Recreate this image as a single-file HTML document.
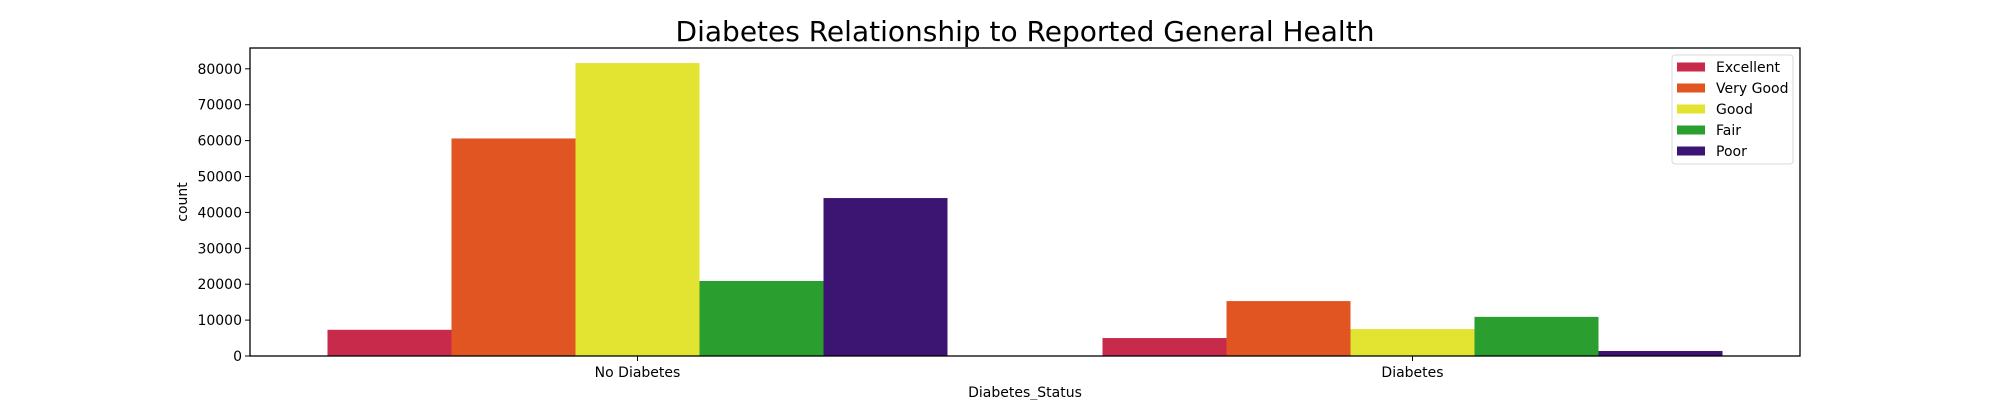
<!DOCTYPE html>
<html><head><meta charset="utf-8"><style>
html,body{margin:0;padding:0;background:#fff;}
svg{display:block;font-family:"DejaVu Sans","Liberation Sans",sans-serif;}
</style></head><body>
<svg id="chart" width="2000" height="400" xmlns="http://www.w3.org/2000/svg">
<text x="1025" y="41" font-size="28" text-anchor="middle">Diabetes Relationship to Reported General Health</text>
<g id="bars"></g>
<g id="yaxis"></g>
<g id="xaxis"></g>
<rect x="250" y="48" width="1550" height="308" fill="none" stroke="#000" stroke-width="1.3"/>
<text x="187" y="202" font-size="14" text-anchor="middle" transform="rotate(-90 187 202)">count</text>
<text x="1025" y="397" font-size="14" text-anchor="middle">Diabetes_Status</text>
<g id="legend"></g>
</svg>
<script>
const categories = ["No Diabetes", "Diabetes"];
const seriesNames = ["Excellent", "Very Good", "Good", "Fair", "Poor"];
const excellent = [7300, 5000];
const veryGood = [60600, 15300];
const good = [81600, 7500];
const fair = [20900, 10900];
const poor = [44000, 1400];
const yTicks = [0, 10000, 20000, 30000, 40000, 50000, 60000, 70000, 80000];
const colors = ["#c72a4a", "#e05521", "#e3e332", "#2a9e2f", "#3c1472"];
const series = [excellent, veryGood, good, fair, poor];

const NS = "http://www.w3.org/2000/svg";
const L = 250, R = 1800, T = 48, B = 356;
const yMax = 85800;
function y(v){ return B - v / yMax * (B - T); }
function x(c){ return L + (c + 0.5) / 2 * (R - L); }
const bw = 0.16 * (R - L) / 2;
function mk(tag, attrs, parent){ const e = document.createElementNS(NS, tag); for (const k in attrs) e.setAttribute(k, attrs[k]); parent.appendChild(e); return e; }

const gb = document.getElementById('bars');
series.forEach((s, si) => {
  s.forEach((v, ci) => {
    const r = mk('rect', {x: x(ci) + (si - 2.5) * bw, y: y(v), width: bw, height: B - y(v), fill: colors[si]}, gb);
    
    
  });
});

const gy = document.getElementById('yaxis');
yTicks.forEach(t => {
  const ln = mk('line', {x1: L - 5, x2: L, y1: y(t), y2: y(t), stroke: '#000', 'stroke-width': 1}, gy);
  
  
  const tx = mk('text', {x: L - 8, y: y(t) + 5, 'font-size': 14, 'text-anchor': 'end'}, gy);
  tx.textContent = String(t);
  
  
});

const gx = document.getElementById('xaxis');
categories.forEach((c, i) => {
  const ln = mk('line', {x1: x(i), x2: x(i), y1: B, y2: B + 5, stroke: '#000', 'stroke-width': 1}, gx);
  
  
  const tx = mk('text', {x: x(i), y: B + 21, 'font-size': 14, 'text-anchor': 'middle'}, gx);
  tx.textContent = c;
  
  
});

const gl = document.getElementById('legend');
const box = mk('rect', {x: 1672, y: 55, width: 121, height: 109, rx: 3, fill: '#fff', stroke: '#d8d8d8', 'stroke-width': 1}, gl);


seriesNames.forEach((n, i) => {
  const cy = 67 + i * 21;
  const p = mk('rect', {x: 1677, y: cy - 4.5, width: 28, height: 9, fill: colors[i]}, gl);
  
  
  const t = mk('text', {x: 1716, y: cy + 5, 'font-size': 14}, gl);
  t.textContent = n;
  
  
});
</script>
</body></html>
